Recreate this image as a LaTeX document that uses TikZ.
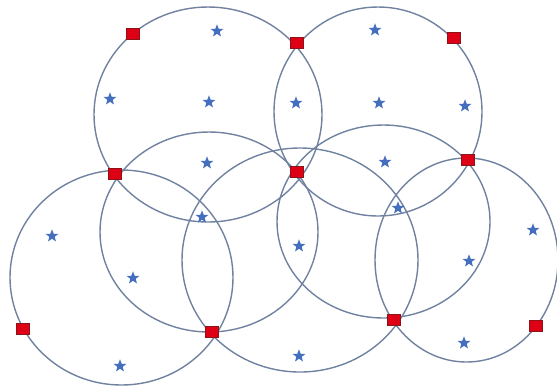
\documentclass[tikz,border=0pt]{standalone}
\usepackage{tikz}
\usepackage{xcolor}
\usetikzlibrary{shapes.geometric}

\definecolor{zoneline}{RGB}{112,130,160}
\definecolor{starblue}{RGB}{68,110,190}
\definecolor{beaconred}{RGB}{222,0,20}
\definecolor{beaconedge}{RGB}{140,20,25}

\begin{document}
\begin{tikzpicture}[x=0.02cm,y=-0.02cm,
  zone/.style={draw=zoneline,line width=0.8pt},
  beacon/.style={rectangle,fill=beaconred,draw=beaconedge,line width=0.5pt,
    minimum width=0.25cm,minimum height=0.21cm,inner sep=0pt},
  sensor/.style={star,star points=5,star point ratio=2.4,fill=starblue,
    inner sep=0pt,minimum size=0.27cm}]
\useasboundingbox (0,0) rectangle (557,387);
% coverage circles
\draw[zone] (208,114.5) ellipse (114 and 107.5);
\draw[zone] (378,111.5) ellipse (104 and 104.5);
\draw[zone] (209,232) ellipse (109 and 100);
\draw[zone] (300,260) ellipse (118 and 112);
\draw[zone] (383.5,221.5) ellipse (106.5 and 96.5);
\draw[zone] (466.5,260) ellipse (91.5 and 102);
\draw[zone] (121.5,277.5) ellipse (111.5 and 107.5);
% beacons
\node[beacon] (b1) at (133,34) {};
\node[beacon] (b2) at (297,43) {};
\node[beacon] (b3) at (454,38) {};
\node[beacon] (b4) at (115,174) {};
\node[beacon] (b5) at (297,172) {};
\node[beacon] (b6) at (468,160) {};
\node[beacon] (b7) at (23,329) {};
\node[beacon] (b8) at (212,332) {};
\node[beacon] (b9) at (394,320) {};
\node[beacon] (b10) at (536,326) {};
% sensors
\node[sensor] (s1) at (217,31) {};
\node[sensor] (s2) at (110,99) {};
\node[sensor] (s3) at (209,102) {};
\node[sensor] (s4) at (207,163) {};
\node[sensor] (s5) at (202,217) {};
\node[sensor] (s6) at (375,30) {};
\node[sensor] (s7) at (296,103) {};
\node[sensor] (s8) at (379,103) {};
\node[sensor] (s9) at (465,106) {};
\node[sensor] (s10) at (385,162) {};
\node[sensor] (s11) at (398,208) {};
\node[sensor] (s12) at (299,246) {};
\node[sensor] (s13) at (299,356) {};
\node[sensor] (s14) at (52,236) {};
\node[sensor] (s15) at (133,278) {};
\node[sensor] (s16) at (120,366) {};
\node[sensor] (s17) at (533,230) {};
\node[sensor] (s18) at (469,261) {};
\node[sensor] (s19) at (464,343) {};
\end{tikzpicture}
\end{document}
